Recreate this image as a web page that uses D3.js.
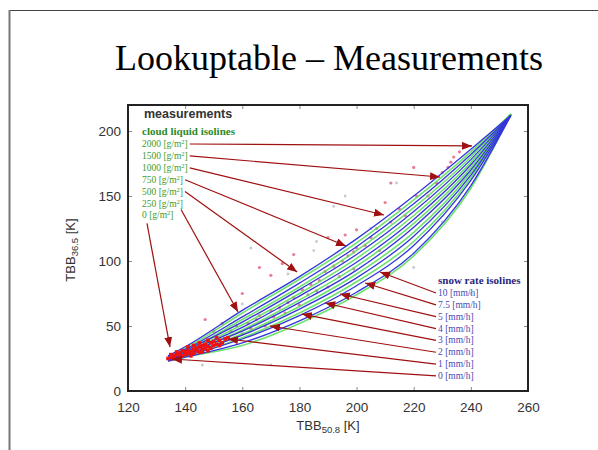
<!DOCTYPE html>
<html>
<head>
<meta charset="utf-8">
<script src="https://cdn.jsdelivr.net/npm/d3@7"></script>
<style>
body { margin:0; background:#fff; }
svg { display:block; }
</style>
</head>
<body>
<div class="slide"></div>
<script>
// isolines share one x grid (TBB 50.8, K)
const isoX = [134, 140, 160, 180, 200, 220, 240, 254];

// snow rate isolines (blue), top to bottom
const snowLines = [
  [27, 34, 62, 88, 117, 150, 186, 212],
  [26, 32, 57, 83, 111, 144, 182, 212],
  [25, 31, 53, 78, 105, 138, 178, 212],
  [25, 30, 49, 73, 99, 132, 174, 212],
  [24, 29, 46, 68, 93, 126, 170, 212],
  [24, 28, 43, 63, 87, 119, 166, 212],
  [24, 27, 40, 58, 81, 112, 162, 212],
  [23, 26, 37, 54, 76, 106, 158, 212]
];
// cloud liquid isolines (green)
const cloudLines = [
  [27, 33, 60, 86, 114, 147, 184, 213],
  [26, 31, 55, 80, 108, 141, 180, 213],
  [25, 30, 51, 75, 102, 135, 176, 213],
  [24, 29, 47, 70, 96, 129, 172, 213],
  [24, 28, 44, 65, 90, 122, 168, 213],
  [24, 27, 41, 60, 84, 115, 164, 213],
  [23, 26, 35, 52, 74, 104, 156, 213]
];

const cloudLabels = ['2000', '1500', '1000', '750', '500', '250', '0'];
const cloudTargetX = [240.4, 229.2, 209.6, 196.3, 179.2, 158.5, 134.7];
const cloudTargetY = [188.5, 164.6, 135.4, 111.5, 91.5, 60.8, 33.8];

const snowLabels = ['10', '7.5', '5', '4', '3', '2', '1', '0'];
const snowTargetX = [208.2, 203.0, 194.2, 189.0, 180.9, 169.7, 155.0, 135.4];
const snowTargetY = [91.5, 83.1, 74.6, 67.7, 59.2, 50.0, 40.0, 24.6];

// measurements: dense cluster (red)
const clusterX = [134,135,136,136,137,138,138,139,140,140,141,141,142,142,143,143,144,144,145,145,146,146,147,147,148,148,149,150,150,151,152,153,154,155,139,137,143,145,148,151,135,141,146,149,152];
const clusterY = [25,26,27,25,28,26,29,27,28,30,29,31,27,30,32,29,31,33,30,34,32,35,33,36,34,31,37,35,38,36,39,37,40,41,31,30,35,37,39,41,28,34,30,33,35];
// measurements: scattered (pink)
const scatterX = [156,158,160,162,163,165,166,168,170,171,173,175,176,178,180,181,183,184,186,187,189,190,192,194,195,197,199,200,203,205,207,208,212,215,225,228,230,232,233,234,236,190,196,200,178,166,160,153,150,147,174,210,220,212,170,199,217,221];
const scatterY = [46,50,44,52,48,55,58,50,62,57,64,60,68,72,66,78,74,82,77,85,92,80,96,88,100,104,94,110,112,118,125,108,130,140,150,160,168,172,176,180,184,118,120,124,105,95,75,52,46,55,98,145,172,160,89,107,135,150];
// measurements: faint (grey)
const faintX = [160,176,185,196,205,220,240,186,146,170,163,230,214,192];
const faintY = [67,90,108,150,125,95,75,115,20,20,110,130,160,142];

const xTicks = [120, 140, 160, 180, 200, 220, 240, 260];
const yTicks = [0, 50, 100, 150, 200];

const width = 598, height = 450;
const svg = d3.select('.slide').append('svg')
  .attr('width', width).attr('height', height);

// slide frame
svg.append('line').attr('x1', 9).attr('x2', 598).attr('y1', 10.5).attr('y2', 10.5)
  .attr('stroke', '#444').attr('stroke-width', 1);
svg.append('line').attr('x1', 9.5).attr('x2', 9.5).attr('y1', 10).attr('y2', 450)
  .attr('stroke', '#777').attr('stroke-width', 2);

svg.append('text').attr('x', 329).attr('y', 70)
  .attr('text-anchor', 'middle')
  .attr('font-family', 'Liberation Serif, Times New Roman, serif')
  .attr('font-size', 36).attr('fill', '#000')
  .text('Lookuptable \u2013 Measurements');

const x = d3.scaleLinear().domain([120, 260]).range([128, 528]);
const y = d3.scaleLinear().domain([0, 220]).range([391, 105]);

const defs = svg.append('defs');
defs.append('marker').attr('id', 'head')
  .attr('viewBox', '0 0 10 8').attr('refX', 10).attr('refY', 4)
  .attr('markerWidth', 10).attr('markerHeight', 8)
  .attr('markerUnits', 'userSpaceOnUse').attr('orient', 'auto')
  .append('path').attr('d', 'M0,0L10,4L0,8Z').attr('fill', '#a01010');

// axes (gnuplot style, ticks inside and mirrored)
const sans = 'Liberation Sans, Arial, sans-serif';
svg.append('g').attr('transform', 'translate(0,391)')
  .call(d3.axisBottom(x).tickValues(xTicks).tickSizeInner(-4).tickSizeOuter(0).tickPadding(11));
svg.append('g').attr('transform', 'translate(128,0)')
  .call(d3.axisLeft(y).tickValues(yTicks).tickSizeInner(-4).tickSizeOuter(0).tickPadding(7));
svg.append('g').attr('transform', 'translate(0,105)')
  .call(d3.axisTop(x).tickValues(xTicks).tickSizeInner(-4).tickSizeOuter(0).tickFormat(''));
svg.append('g').attr('transform', 'translate(528,0)')
  .call(d3.axisRight(y).tickValues(yTicks).tickSizeInner(-4).tickSizeOuter(0).tickFormat(''));
svg.selectAll('.domain').remove();
svg.selectAll('.tick line').attr('stroke', '#888');
svg.selectAll('.tick text').attr('font-family', sans).attr('font-size', 13.5).attr('fill', '#333');

svg.append('rect').attr('x', 128).attr('y', 105).attr('width', 400).attr('height', 286)
  .attr('fill', 'none').attr('stroke', '#222').attr('stroke-width', 2);

// axis titles
const xl = svg.append('text').attr('x', 328).attr('y', 430).attr('text-anchor', 'middle')
  .attr('font-family', sans).attr('font-size', 13).attr('fill', '#333');
xl.append('tspan').text('TBB');
xl.append('tspan').attr('font-size', 9.5).attr('dy', 3).text('50.8');
xl.append('tspan').attr('dy', -3).text(' [K]');

const yl = svg.append('text').attr('transform', 'translate(75,250) rotate(-90)')
  .attr('text-anchor', 'middle')
  .attr('font-family', sans).attr('font-size', 13).attr('fill', '#333');
yl.append('tspan').text('TBB');
yl.append('tspan').attr('font-size', 9.5).attr('dy', 3).text('36.5');
yl.append('tspan').attr('dy', -3).text(' [K]');

// measurements
svg.append('g').selectAll('circle').data(faintX).enter().append('circle')
  .attr('cx', (d, i) => x(d)).attr('cy', (d, i) => y(faintY[i]))
  .attr('r', 1.4).attr('fill', '#c8c8d0');
svg.append('g').selectAll('circle').data(scatterX).enter().append('circle')
  .attr('cx', (d, i) => x(d)).attr('cy', (d, i) => y(scatterY[i]))
  .attr('r', 1.6).attr('fill', '#e0507a').attr('opacity', 0.75);

// isolines
const line = d3.line().x((d, i) => x(isoX[i])).y(d => y(d)).curve(d3.curveMonotoneX);
svg.append('g').selectAll('path').data(cloudLines).enter().append('path')
  .attr('d', line).attr('fill', 'none').attr('stroke', '#55dd55').attr('stroke-width', 1.6).attr('opacity', 0.85);
svg.append('g').selectAll('path').data(snowLines).enter().append('path')
  .attr('d', line).attr('fill', 'none').attr('stroke', '#3535dc').attr('stroke-width', 1.3);

svg.append('g').selectAll('rect').data(clusterX).enter().append('rect')
  .attr('x', (d, i) => x(d) - 1.8).attr('y', (d, i) => y(clusterY[i]) - 1.8)
  .attr('width', 3.6).attr('height', 3.6).attr('fill', '#f01010');

svg.append('text').attr('x', 144).attr('y', 118)
  .attr('font-family', sans).attr('font-weight', 'bold').attr('font-size', 12.5).attr('fill', '#333')
  .text('measurements');

// legends + arrows
const serif = 'Liberation Serif, Times New Roman, serif';
svg.append('text').attr('x', 142).attr('y', 135)
  .attr('font-family', serif).attr('font-weight', 'bold').attr('font-size', 11)
  .attr('fill', '#2d8a1e').text('cloud liquid isolines');
const cl = svg.append('g').selectAll('text').data(cloudLabels).enter().append('text')
  .attr('x', 142).attr('y', (d, i) => 147 + i * 11.9)
  .attr('font-family', serif).attr('font-size', 9.5).attr('fill', '#3c9c2c');
cl.append('tspan').text(d => d + ' [g/m');
cl.append('tspan').attr('font-size', 6.5).attr('dy', -3).text('2');
cl.append('tspan').attr('dy', 3).text(']');

cl.each(function(d, i) {
  const w = this.getComputedTextLength();
  let sx = 142 + w + 2, sy = 147 + i * 11.9 - 3;
  if (d === '250') { sx = 142 + w - 2; sy = 147 + i * 11.9 + 3; }
  if (d === '0') { sx = 147; sy = 147 + i * 11.9 + 5; }
  svg.append('line').attr('x1', sx).attr('y1', sy)
    .attr('x2', x(cloudTargetX[i])).attr('y2', y(cloudTargetY[i]))
    .attr('stroke', '#a01010').attr('stroke-width', 1.2).attr('marker-end', 'url(#head)');
});

svg.append('text').attr('x', 438).attr('y', 284)
  .attr('font-family', serif).attr('font-weight', 'bold').attr('font-size', 11)
  .attr('fill', '#262680').text('snow rate isolines');
svg.append('g').selectAll('text').data(snowLabels).enter().append('text')
  .attr('x', 438).attr('y', (d, i) => 296 + i * 11.85)
  .attr('font-family', serif).attr('font-size', 9.5).attr('fill', '#4848b0')
  .text(d => d + ' [mm/h]');
svg.append('g').selectAll('line').data(snowLabels).enter().append('line')
  .attr('x1', 436).attr('y1', (d, i) => 296 + i * 11.85 - 3)
  .attr('x2', (d, i) => x(snowTargetX[i])).attr('y2', (d, i) => y(snowTargetY[i]))
  .attr('stroke', '#a01010').attr('stroke-width', 1.2).attr('marker-end', 'url(#head)');
</script>
</body>
</html>
